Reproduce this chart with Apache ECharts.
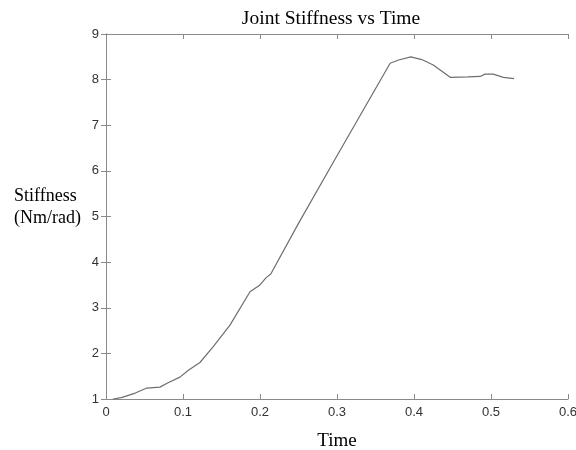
<!DOCTYPE html>
<html>
<head>
<meta charset="utf-8">
<script src="https://cdn.jsdelivr.net/npm/echarts@6/dist/echarts.min.js"></script>
<style>
  html, body { margin: 0; padding: 0; background: #fff; }
  #chart { width: 576px; height: 450px; }
</style>
</head>
<body>
<div id="chart"></div>
<script>
// time (s) and stiffness (Nm/rad)
var timeVals = [0.009, 0.02, 0.038, 0.053, 0.07, 0.08, 0.096, 0.107, 0.122, 0.139, 0.161, 0.187, 0.2, 0.208, 0.214, 0.25, 0.3, 0.35, 0.369, 0.38, 0.396, 0.41, 0.425, 0.447, 0.47, 0.486, 0.492, 0.503, 0.516, 0.53];
var stiffVals = [1.0, 1.03, 1.13, 1.24, 1.26, 1.35, 1.48, 1.63, 1.8, 2.14, 2.62, 3.35, 3.5, 3.66, 3.74, 4.85, 6.33, 7.8, 8.36, 8.43, 8.5, 8.44, 8.32, 8.05, 8.06, 8.07, 8.12, 8.12, 8.05, 8.02];
var xTicks = [0, 0.1, 0.2, 0.3, 0.4, 0.5, 0.6];
var yTicks = [1, 2, 3, 4, 5, 6, 7, 8, 9];

var lineData = timeVals.map(function (t, i) { return [t, stiffVals[i]]; });

var axisColor = '#8a8a8a';
var serif = '"Liberation Serif", "Times New Roman", serif';
var sans = '"Liberation Sans", Arial, sans-serif';

function boxAxis(pos, min, max, step, showLabels) {
  return {
    type: 'value',
    position: pos,
    min: min,
    max: max,
    interval: step,
    axisLine: { show: true, lineStyle: { color: axisColor, width: 1 } },
    axisTick: { show: true, inside: true, length: 5, lineStyle: { color: axisColor } },
    axisLabel: {
      show: showLabels,
      color: '#333',
      fontSize: 13,
      fontFamily: sans,
      margin: 7,
      formatter: function (v) { return String(Math.round(v * 10) / 10); }
    },
    splitLine: { show: false }
  };
}

var xBottom = boxAxis('bottom', xTicks[0], xTicks[xTicks.length - 1], 0.1, true);
xBottom.name = 'Time';
xBottom.nameLocation = 'middle';
xBottom.nameGap = 33;
xBottom.nameTextStyle = { color: '#000', fontSize: 19, fontFamily: serif };
var xTop = boxAxis('top', xTicks[0], xTicks[xTicks.length - 1], 0.1, false);

var yLeft = boxAxis('left', yTicks[0], yTicks[yTicks.length - 1], 1, true);
var yRight = boxAxis('right', yTicks[0], yTicks[yTicks.length - 1], 1, false);

var chart = echarts.init(document.getElementById('chart'));
chart.setOption({
  backgroundColor: '#fff',
  animation: false,
  title: [{
    text: 'Joint Stiffness vs Time',
    left: 326,
    textAlign: 'center',
    top: 4,
    textStyle: { color: '#000', fontSize: 19.5, fontWeight: 'normal', fontFamily: serif }
  }, {
    // y axis label, written horizontally like the original
    text: 'Stiffness\n(Nm/rad)',
    left: 14,
    top: 185,
    padding: 0,
    textStyle: { color: '#000', fontSize: 18, fontWeight: 'normal', fontFamily: serif, lineHeight: 22 }
  }],
  grid: { left: 106, right: 8, top: 34, bottom: 51, containLabel: false, outerBoundsMode: 'none' },
  xAxis: [xBottom, xTop],
  yAxis: [yLeft, yRight],
  series: [{
    type: 'line',
    data: lineData,
    showSymbol: false,
    smooth: false,
    lineStyle: { color: '#6e6e6e', width: 1.2 }
  }]
});
</script>
</body>
</html>
